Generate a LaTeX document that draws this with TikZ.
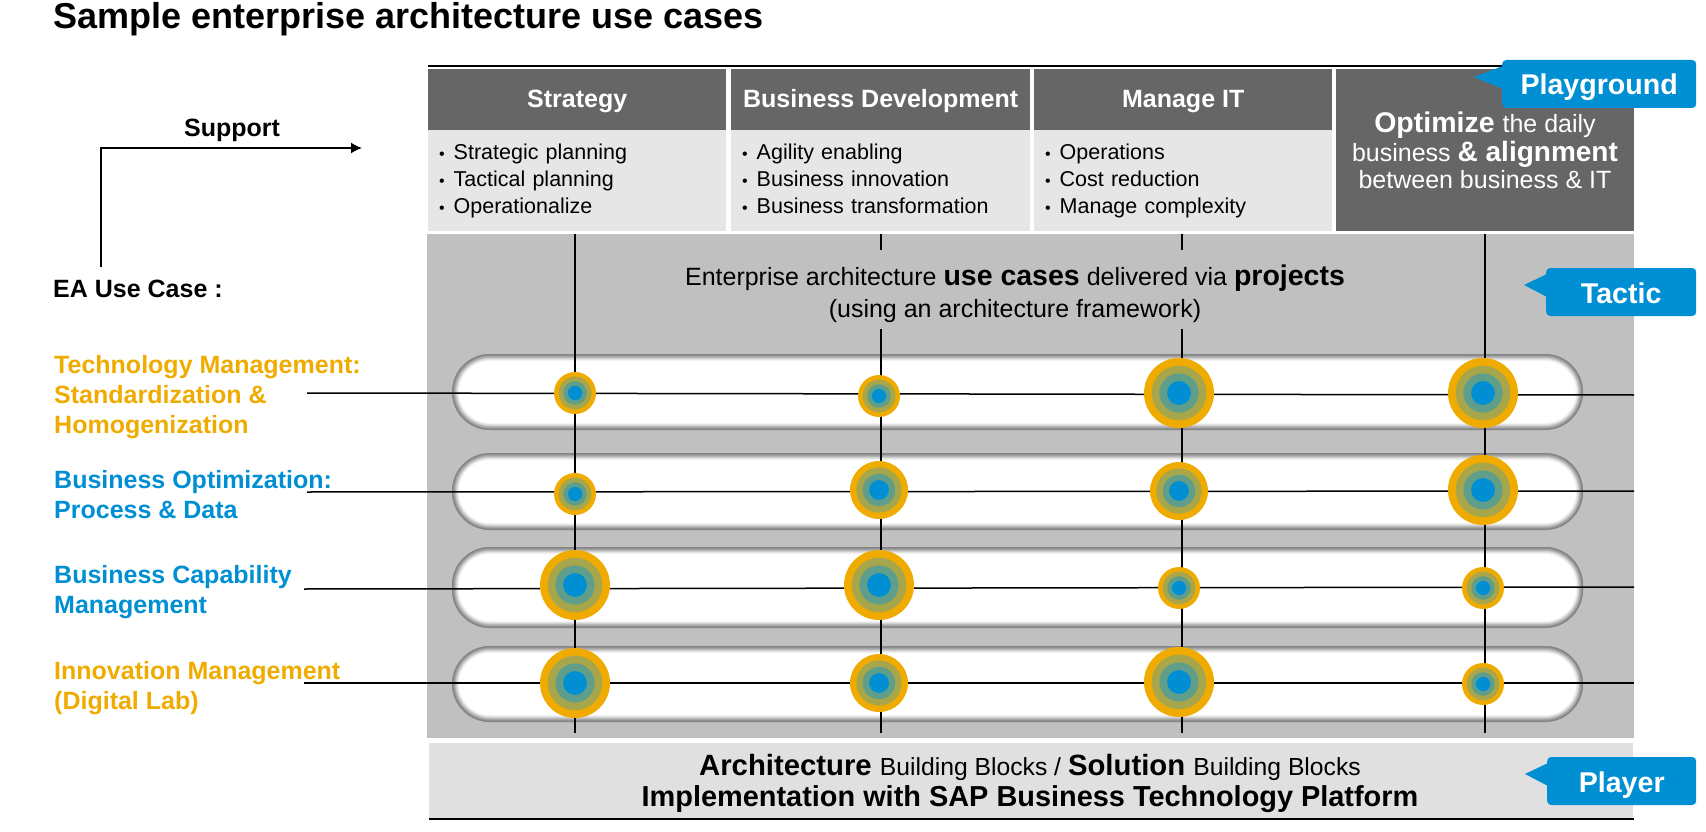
\documentclass[tikz,border=0pt]{standalone}
\usepackage{fontspec}
\usepackage{xcolor}
\usetikzlibrary{arrows,arrows.meta}
\setmainfont{Liberation Sans}
\definecolor{darkhead}{HTML}{666666}
\definecolor{lightbody}{HTML}{E6E6E6}
\definecolor{midpanel}{HTML}{C0C0C0}
\definecolor{footbox}{HTML}{E0E0E0}
\definecolor{sapblue}{HTML}{008FD3}
\definecolor{saporange}{HTML}{F0AB00}
\definecolor{ringtwo}{HTML}{A8A64A}
\definecolor{ringthree}{HTML}{5F9E8A}
\newcommand{\bul}{\strut\makebox[14.5pt][l]{\fontsize{16}{16}\selectfont•}}
\tikzset{
  headbox/.style={fill=darkhead,text=white,inner sep=0pt,minimum height=61pt,text height=20pt,text depth=5pt,anchor=north west,font=\fontsize{25}{30}\selectfont\bfseries},
  bodybox/.style={fill=lightbody,inner xsep=11pt,inner ysep=0pt,minimum height=101pt,anchor=north west,align=left,font=\fontsize{21.5}{27}\selectfont},
  usecase/.style={anchor=west,inner sep=0pt,align=left,font=\fontsize{25}{30}\selectfont\bfseries},
  tagbox/.style={fill=sapblue,text=white,rounded corners=4pt,inner sep=0pt,minimum height=48pt,text height=26pt,text depth=4pt,font=\fontsize{28.6}{30}\selectfont\bfseries},
  line/.style={black,line width=1.5pt},
  ring/.style={circle,inner sep=0pt,fill=saporange}
}
\begin{document}
\begin{tikzpicture}[x=1pt,y=-1pt]
\useasboundingbox (0,0) rectangle (1706,832);
\node[anchor=west,inner sep=0pt,font=\fontsize{36}{40}\selectfont\bfseries] (title) at (53,19) {Sample enterprise architecture use cases};
% panels
\node[fill=midpanel,inner sep=0pt,minimum width=1207pt,minimum height=504pt,anchor=north west] (panel) at (427,234) {};
\foreach \nm/\cx/\cw/\head/\one/\two/\three in {
  strat/428/298/Strategy/Strategic planning/Tactical planning/Operationalize,
  busdev/731/299/Business Development/Agility enabling/Business innovation/Business transformation,
  manit/1034/298/Manage IT/Operations/Cost reduction/Manage complexity}{
\node[headbox,minimum width=\cw pt] (\nm head) at (\cx,69) {\head};
\node[bodybox,minimum width=\cw pt,text width={\cw pt-22pt}] (\nm body) at (\cx,130) {\bul\one\\\bul\two\\\bul\three};
}
\node[fill=darkhead,inner sep=0pt,minimum width=298pt,minimum height=162pt,anchor=north west] (goal) at (1336,69) {};
\node[text=white,align=center,inner sep=0pt] (goaltext) at (1485,150) {\fontsize{28.5}{31}\selectfont\bfseries Optimize \fontsize{25}{31}\selectfont\mdseries the daily\\[2pt]\fontsize{25}{31}\selectfont business \fontsize{28}{31}\selectfont\bfseries \& alignment\\[2pt]\fontsize{25}{30}\selectfont between business \& IT};
\node[fill=footbox,inner sep=0pt,minimum width=1204pt,minimum height=75pt,anchor=north west] (foot) at (429,743) {};
\node[align=center,inner sep=0pt] (foottext) at (1030,783) {\fontsize{29.3}{31}\selectfont\bfseries Architecture \fontsize{24.7}{31}\selectfont\mdseries Building Blocks / \fontsize{29.3}{31}\selectfont\bfseries Solution \fontsize{24.7}{31}\selectfont\mdseries Building Blocks\\[4pt]\fontsize{28.9}{31}\selectfont\bfseries Implementation with SAP Business Technology Platform};
% rules
\coordinate (topl) at (428,66);
\coordinate (topr) at (1634,66);
\coordinate (botl) at (429,819);
\coordinate (botr) at (1634,819);
\draw[line width=2pt] (topl) -- (topr);
\draw[line width=2pt] (botl) -- (botr);
% pills
\foreach \ya/\yb in {354/430,453/530,547/628,646/722}{
\begin{scope}
\clip[rounded corners=38pt] (452,\ya) rectangle (1583,\yb);
\fill[white] (452,\ya) rectangle (1583,\yb);
\foreach \w/\g in {14/4,12/10,10/18,8/27,6/35,4/42,2.5/48}{
\draw[black!\g!white,line width=\w pt,rounded corners=38pt] (452,\ya) rectangle (1583,\yb);
}
\end{scope}
}
\node[anchor=center,inner sep=0pt,font=\fontsize{25}{32}\selectfont,align=center] (midtext) at (1015,294) {Enterprise architecture {\fontsize{28.5}{32}\selectfont\bfseries use cases} delivered via {\fontsize{28.5}{32}\selectfont\bfseries projects}\\(using an architecture framework)};
% left side
\node[anchor=center,inner sep=0pt,font=\fontsize{25}{30}\selectfont\bfseries] (support) at (232,130) {Support};
\node[anchor=west,inner sep=0pt,font=\fontsize{25}{30}\selectfont\bfseries] (eacase) at (53,289) {EA Use Case :};
\node[usecase,text=saporange] (techmgmt) at (54,397) {Technology Management:\\Standardization \&\\Homogenization};
\node[usecase,text=sapblue] (busopt) at (54,495) {Business Optimization:\\Process \& Data};
\node[usecase,text=sapblue] (buscap) at (54,592) {Business Capability\\Management};
\node[usecase,text=saporange] (innov) at (54,688) {Innovation Management\\(Digital Lab)};
\coordinate (arrowfrom) at (101,267);
\coordinate (arrowbend) at (101,148);
\coordinate (arrowto) at (362,148);
\draw[-{Latex[length=11pt,width=11pt]},line width=1.5pt] (arrowfrom) -- (arrowbend) -- (arrowto);
% grid
\foreach \n/\xx/\ya/\yb in {1/575/234/733,2/881/329/733,3/1182/329/733,4/1485/234/733}{
\coordinate (vt\n) at (\xx,\ya);
\coordinate (vb\n) at (\xx,\yb);
\draw[line] (vt\n) -- (vb\n);
}
\foreach \n/\xx in {2/881,3/1182}{
\coordinate (st\n) at (\xx,234);
\coordinate (se\n) at (\xx,250);
\draw[line] (st\n) -- (se\n);
}
\foreach \n/\xa/\yy/\yr in {1/307/393/395,2/307/492/491,3/304/589/587,4/304/683/683}{
\coordinate (hl\n) at (\xa,\yy);
\coordinate (hr\n) at (1634,\yr);
\draw[line] (hl\n) -- (hr\n);
}
\foreach \nm/\cx/\cy/\cr in {
  a1/575/393/21,a2/879/396/21,a3/1179/393/35,a4/1483/393/35,
  b1/575/494/21,b2/879/490/29,b3/1179/491/29,b4/1483/490/35,
  c1/575/585/35,c2/879/585/35,c3/1179/588/21,c4/1483/588/21,
  d1/575/683/35,d2/879/683/29,d3/1179/682/35,d4/1483/684/21}{
\node[ring,minimum size={2*\cr pt}] (\nm) at (\cx,\cy) {};
\fill[ringtwo] (\nm) circle ({0.78*\cr});
\fill[ringthree] (\nm) circle ({0.56*\cr});
\fill[sapblue] (\nm) circle ({0.34*\cr});
}
% tags
\foreach \nm/\txt/\xa/\ymid/\tipx/\tagw in {playground/Playground/1502/84/1474/194,tactic/Tactic/1546/292/1524/150,player/Player/1547/781/1525/149}{
\node[tagbox,minimum width=\tagw pt,anchor=west] (\nm) at (\xa,\ymid) {\txt};
\fill[sapblue] (\nm.west) ++(1,-18) -- (\tipx,\ymid-7) -- (\xa+1,\ymid+5) -- cycle;
}
\end{tikzpicture}
\end{document}
